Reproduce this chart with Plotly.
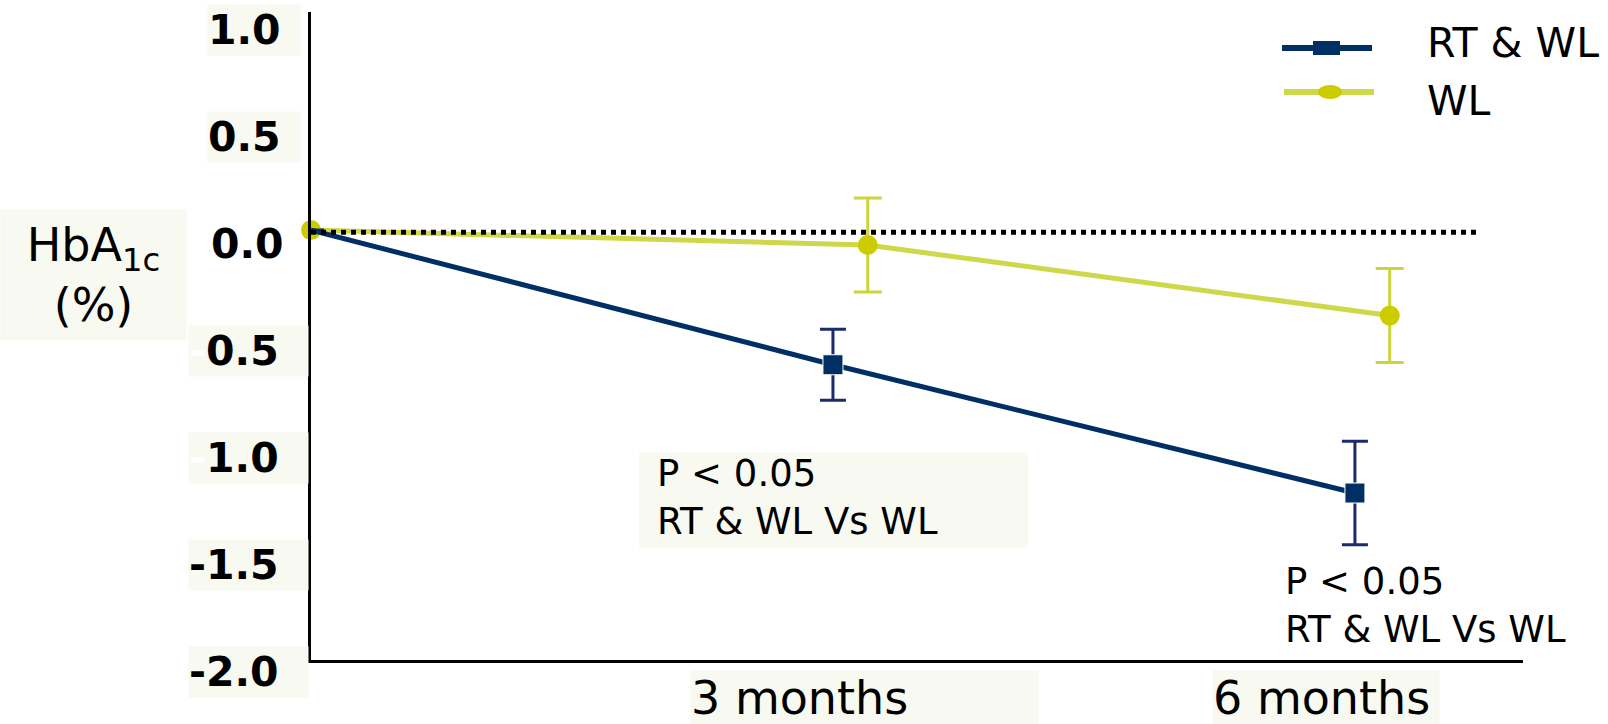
import plotly.graph_objects as go

# ---- data ----
months = [0, 3, 6]
rt_wl = [0.01, -0.62, -1.22]
rt_wl_err = [0, 0.166, 0.242]
wl = [0.01, -0.06, -0.39]
wl_err = [0, 0.22, 0.22]

series_names = ["RT & WL", "WL"]
y_tick_vals = [1.0, 0.5, 0.0, -0.5, -1.0, -1.5, -2.0]
y_tick_text = ["1.0", "0.5", "0.0",
               "<span style='color:white'>-</span>0.5",
               "<span style='color:white'>-</span>1.0",
               "-1.5", "-2.0"]
x_tick_vals = [3, 6]
x_tick_text = ["3 months", "6 months"]
p_text = "P &lt; 0.05<br>RT &amp; WL Vs WL"
y_title = "HbA<sub>1c</sub><br>(%)"

# ---- style ----
NAVY = "#002f66"
NAVY_ERR = "#1c2b6c"
YEL_LINE = "#cfd74a"
YEL_MARK = "#cccc00"
YEL_ERR = "#cdd43a"
CREAM = "#f8f9f1"
WL_DODGE = 0.2          # horizontal dodge of WL points (months)
Y_MIN, Y_MAX = -2.001, 1.03
y_box_left = [207, 207, None, 188, 188, 188, 188]
y_box_width = [92, 92, 0, 119, 119, 119, 119]
x_box_width = [347, 226]

wl_x = [m + (WL_DODGE if m > 0 else 0) for m in months]

fig = go.Figure()
fig.add_trace(go.Scatter(
    x=wl_x, y=wl, name=series_names[1], mode="lines+markers",
    line=dict(color=YEL_LINE, width=5),
    marker=dict(symbol="circle", size=20, color=YEL_MARK, opacity=1),
    error_y=dict(type="data", array=wl_err, visible=True,
                 color=YEL_ERR, thickness=3, width=14),
    cliponaxis=False, showlegend=False,
))
fig.add_trace(go.Scatter(
    x=months, y=rt_wl, name=series_names[0], mode="lines+markers",
    line=dict(color=NAVY, width=5),
    marker=dict(symbol="square", size=[0, 20, 20], color=NAVY, opacity=1),
    error_y=dict(type="data", array=rt_wl_err, visible=True,
                 color=NAVY_ERR, thickness=3, width=13),
    cliponaxis=False, showlegend=False,
))

shapes = []
# dotted zero reference line
shapes.append(dict(type="line", xref="x", yref="y", x0=0, x1=6.7, y0=0, y1=0,
                   line=dict(color="black", width=5, dash="5px,5px"), layer="above"))
# box behind first p-value note
shapes.append(dict(type="rect", xref="x", yref="y", xsizemode="pixel", ysizemode="pixel",
                   xanchor=3, yanchor=-1.25, x0=-194, x1=195, y0=-48, y1=47,
                   fillcolor=CREAM, line=dict(width=0), layer="below"))
# legend glyphs (pixel offsets from top-right corner of plot area)
shapes += [
    dict(type="line", xref="paper", yref="paper", xsizemode="pixel", ysizemode="pixel",
         xanchor=1, yanchor=1, x0=-241, x1=-151, y0=-36, y1=-36,
         line=dict(color=NAVY, width=6)),
    dict(type="rect", xref="paper", yref="paper", xsizemode="pixel", ysizemode="pixel",
         xanchor=1, yanchor=1, x0=-210, x1=-183, y0=-29, y1=-43,
         fillcolor=NAVY, line=dict(width=0)),
    dict(type="line", xref="paper", yref="paper", xsizemode="pixel", ysizemode="pixel",
         xanchor=1, yanchor=1, x0=-239, x1=-149, y0=-80, y1=-80,
         line=dict(color=YEL_LINE, width=6)),
    dict(type="circle", xref="paper", yref="paper", xsizemode="pixel", ysizemode="pixel",
         xanchor=1, yanchor=1, x0=-205, x1=-181, y0=-73, y1=-87,
         fillcolor=YEL_MARK, line=dict(width=0)),
]

annotations = []
# y tick labels
for v, t, bl, bw in zip(y_tick_vals, y_tick_text, y_box_left, y_box_width):
    a = dict(xref="paper", yref="y", x=0, y=v, xanchor="left", yanchor="middle",
             yshift=-12, text=t, showarrow=False, align="left", borderpad=0,
             font=dict(family="DejaVu Sans", size=41, color="black", weight="bold"))
    if bl is None:
        a.update(xshift=210 - 311)
    else:
        a.update(xshift=bl - 311, width=bw, height=50, bgcolor=CREAM)
    annotations.append(a)
# x tick labels
for v, t, w in zip(x_tick_vals, x_tick_text, x_box_width):
    annotations.append(dict(
        xref="x", yref="paper", x=v, y=0, xanchor="left", yanchor="top",
        xshift=-143, yshift=-10, text=t, showarrow=False, width=w, align="left",
        font=dict(family="DejaVu Sans", size=46, color="black"),
        bgcolor=CREAM, borderpad=0))
# y title
annotations.append(dict(
    xref="paper", yref="paper", x=0, y=1, xshift=-311, yshift=-197,
    xanchor="left", yanchor="top", text=y_title, showarrow=False,
    width=185, height=130, borderpad=0, align="center",
    font=dict(family="DejaVu Sans", size=46, color="black"), bgcolor=CREAM))
# p-value notes
annotations.append(dict(
    xref="x", yref="y", x=3, y=-1.25, xanchor="left", yanchor="middle",
    xshift=654 - 832, yshift=2, text=p_text, showarrow=False, align="left",
    font=dict(family="DejaVu Sans", size=37, color="black")))
annotations.append(dict(
    xref="x", yref="y", x=6, y=-1.748, xanchor="left", yanchor="middle",
    xshift=-72, text=p_text, showarrow=False, align="left",
    font=dict(family="DejaVu Sans", size=37, color="black")))
# legend labels
for name, dy in zip(series_names, [-31, -89]):
    annotations.append(dict(
        xref="paper", yref="paper", x=1, y=1, xshift=-98, yshift=dy,
        xanchor="left", yanchor="middle", text=name, showarrow=False,
        font=dict(family="DejaVu Sans", size=41, color="black")))

fig.update_layout(
    width=1608, height=724, autosize=False,
    paper_bgcolor="white", plot_bgcolor="white",
    margin=dict(l=311, r=85, t=12, b=64, autoexpand=False),
    showlegend=False,
    shapes=shapes,
    annotations=annotations,
)
fig.update_xaxes(range=[0, 6.966], showticklabels=False, showgrid=False,
                 zeroline=False, showline=True, linecolor="black", linewidth=3,
                 ticks="")
fig.update_yaxes(range=[Y_MIN, Y_MAX], showticklabels=False, showgrid=False,
                 zeroline=False, showline=True, linecolor="black", linewidth=3,
                 ticks="")

fig.write_html(
    "out.html",
    config={"displayModeBar": False},
    post_script="document.body.style.margin='0px';document.body.style.overflow='hidden';",
)
